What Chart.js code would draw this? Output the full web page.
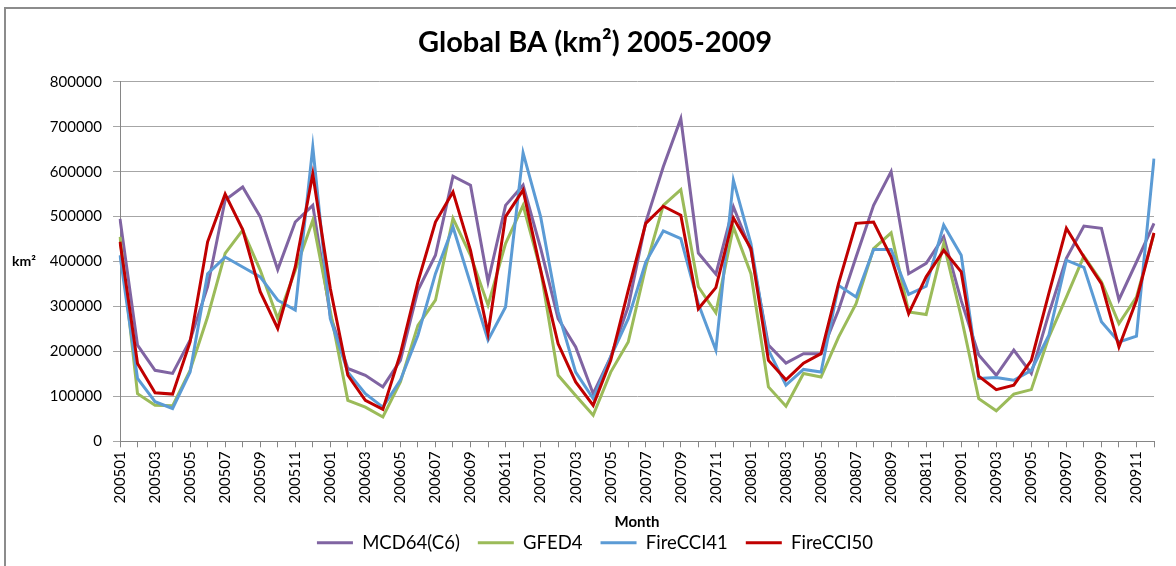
<!DOCTYPE html>
<html>
<head>
<meta charset="utf-8">
<script src="https://cdn.jsdelivr.net/npm/chart.js@4/dist/chart.umd.min.js"></script>
<style>
  html, body { margin: 0; padding: 0; background: #fff; overflow: hidden; }
  #wrap { position: relative; width: 1176px; height: 566px; }
  #frame { position: absolute; left: 4px; top: 7px; width: 1200px; height: 600px;
           border-top: 2px solid #8c8c8c; border-left: 2px solid #8c8c8c; }
  #kmLabel { position: absolute; left: 12px; top: 252px; font: bold 14px Lato, sans-serif; color: #000; }
</style>
</head>
<body>
<div id="wrap">
  <div id="frame"></div>
  <canvas id="baChart" width="1176" height="566"></canvas>
  <div id="kmLabel">km²</div>
</div>
<script>
// months 2005-2009
const months = [
  '200501','200502','200503','200504','200505','200506','200507','200508','200509','200510','200511','200512',
  '200601','200602','200603','200604','200605','200606','200607','200608','200609','200610','200611','200612',
  '200701','200702','200703','200704','200705','200706','200707','200708','200709','200710','200711','200712',
  '200801','200802','200803','200804','200805','200806','200807','200808','200809','200810','200811','200812',
  '200901','200902','200903','200904','200905','200906','200907','200908','200909','200910','200911','200912'
];

const mcd64 = [
  495000, 214000, 158000, 151000, 225000, 344000, 537000, 566000, 500000, 382000, 488000, 525000,
  280000, 162000, 147000, 121000, 180000, 336000, 414000, 590000, 570000, 355000, 525000, 570000,
  430000, 273000, 210000, 106000, 188000, 300000, 488000, 611000, 718000, 419000, 372000, 522000,
  425000, 214000, 174000, 195000, 195000, 292000, 410000, 525000, 600000, 373000, 396000, 455000,
  313000, 192000, 147000, 203000, 151000, 284000, 407000, 479000, 474000, 315000, 399000, 485000
];
const gfed4 = [
  455000, 106000, 80000, 79000, 158000, 277000, 418000, 470000, 381000, 273000, 380000, 492000,
  290000, 91000, 76000, 54000, 132000, 258000, 314000, 496000, 414000, 303000, 440000, 525000,
  381000, 147000, 102000, 58000, 154000, 221000, 388000, 525000, 560000, 344000, 286000, 477000,
  373000, 121000, 78000, 151000, 143000, 232000, 306000, 429000, 464000, 288000, 282000, 440000,
  277000, 95000, 68000, 105000, 115000, 232000, 321000, 412000, 355000, 262000, 321000, 462000
];
const fireCCI41 = [
  414000, 140000, 88000, 73000, 154000, 373000, 410000, 388000, 366000, 314000, 292000, 655000,
  273000, 154000, 106000, 76000, 136000, 236000, 373000, 477000, 351000, 225000, 299000, 642000,
  500000, 288000, 154000, 95000, 188000, 273000, 399000, 468000, 451000, 306000, 203000, 581000,
  440000, 203000, 125000, 160000, 154000, 347000, 321000, 427000, 427000, 327000, 345000, 481000,
  414000, 140000, 142000, 136000, 158000, 236000, 403000, 387000, 266000, 221000, 234000, 629000
];
const fireCCI50 = [
  444000, 173000, 108000, 105000, 221000, 444000, 550000, 471000, 333000, 251000, 388000, 595000,
  340000, 147000, 91000, 71000, 195000, 355000, 488000, 555000, 425000, 240000, 500000, 559000,
  381000, 217000, 132000, 80000, 180000, 336000, 485000, 523000, 503000, 295000, 342000, 497000,
  429000, 180000, 137000, 174000, 195000, 351000, 485000, 488000, 410000, 284000, 366000, 425000,
  377000, 145000, 115000, 125000, 180000, 329000, 474000, 410000, 351000, 210000, 314000, 464000
];

const seriesNames = ['MCD64(C6)', 'GFED4', 'FireCCI41', 'FireCCI50'];
const seriesColors = ['#8064A2', '#9BBB59', '#5B9BD5', '#C00000'];
const seriesData = [mcd64, gfed4, fireCCI41, fireCCI50];

const yTicks = [0, 100000, 200000, 300000, 400000, 500000, 600000, 700000, 800000];

document.addEventListener('DOMContentLoaded', function () {
    const ctx = document.getElementById('baChart').getContext('2d');

    const datasets = seriesNames.map(function (name, i) {
        return {
            label: name,
            data: seriesData[i],
            borderColor: seriesColors[i],
            backgroundColor: seriesColors[i],
            borderWidth: 3,
            pointRadius: 0,
            tension: 0,
            fill: false,
            order: seriesNames.length - 1 - i // later series on top, like Excel
        };
    });

    new Chart(ctx, {
        type: 'line',
        data: { labels: months, datasets: datasets },
        options: {
            responsive: false,
            animation: false,
            layout: { padding: { left: 25, right: 11, top: 0, bottom: 4 } },
            plugins: {
                tooltip: { enabled: false },
                title: {
                    display: true,
                    text: 'Global BA (km²) 2005-2009',
                    color: '#000',
                    font: { family: 'Lato', size: 29, weight: 'bold' },
                    padding: { top: 25, bottom: 22 }
                },
                legend: {
                    position: 'bottom',
                    labels: {
                        color: '#000',
                        font: { family: 'Lato', size: 18.5 },
                        boxWidth: 36,
                        boxHeight: 3,
                        padding: 18,
                        sort: function (a, b) { return a.datasetIndex - b.datasetIndex; },
                        generateLabels: function (chart) {
                            return chart.data.datasets.map(function (ds, i) {
                                return {
                                    text: ds.label,
                                    fillStyle: ds.borderColor,
                                    strokeStyle: ds.borderColor,
                                    lineWidth: 0,
                                    fontColor: '#000',
                                    datasetIndex: i,
                                    hidden: false
                                };
                            });
                        }
                    }
                }
            },
            scales: {
                x: {
                    offset: false,
                    border: { color: '#868686', width: 1 },
                    grid: { drawOnChartArea: false, drawTicks: true, tickLength: 6, color: '#868686' },
                    ticks: {
                        autoSkip: false,
                        maxRotation: 90,
                        minRotation: 90,
                        padding: 4,
                        color: '#000',
                        font: { family: 'Lato', size: 15 },
                        callback: function (val, idx) { return idx % 2 === 0 ? months[idx] : ''; }
                    },
                    title: {
                        display: true,
                        text: 'Month',
                        color: '#000',
                        font: { family: 'Lato', size: 15, weight: 'bold' },
                        padding: { top: 6, bottom: -16 }
                    }
                },
                y: {
                    min: 0,
                    max: 800000,
                    border: { color: '#868686', width: 1 },
                    grid: { color: '#a6a6a6', tickLength: 7 },
                    afterFit: function (scale) { scale.width = 95; },
                    afterBuildTicks: function (scale) {
                        scale.ticks = yTicks.map(function (v) { return { value: v }; });
                    },
                    ticks: {
                        padding: 11,
                        color: '#000',
                        font: { family: 'Lato', size: 15 },
                        callback: function (v) { return String(v); }
                    }
                }
            }
        }
    });
});
</script>
</body>
</html>
